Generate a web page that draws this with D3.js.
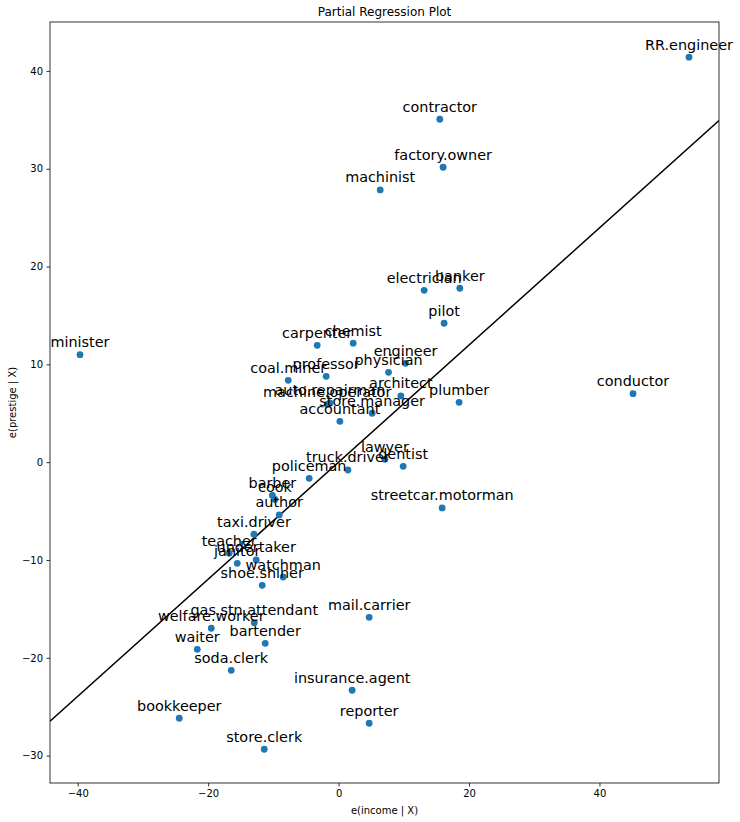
<!DOCTYPE html>
<html>
<head>
<meta charset="utf-8">
<script src="https://cdn.jsdelivr.net/npm/d3@7"></script>
<style>
  body { margin: 0; background: #fff; }
  svg { font-family: "DejaVu Sans", sans-serif; }
</style>
</head>
<body>
<div id="chart"></div>
<script>
// occupations and their partial residuals
var occupations = ["RR.engineer", "contractor", "factory.owner", "machinist", "electrician", "banker",
  "pilot", "minister", "carpenter", "chemist", "engineer", "physician", "professor", "coal.miner",
  "architect", "plumber", "conductor", "auto.repairman", "machine.operator", "store.manager",
  "accountant", "lawyer", "dentist", "truck.driver", "policeman", "barber", "cook", "author",
  "streetcar.motorman", "taxi.driver", "teacher", "undertaker", "janitor", "watchman", "shoe.shiner",
  "gas.stn.attendant", "welfare.worker", "mail.carrier", "bartender", "waiter", "soda.clerk",
  "insurance.agent", "bookkeeper", "reporter", "store.clerk"];

var incomeResid = [53.73, 15.52, 16.03, 6.38, 13.12, 18.59, 16.18, -39.65, -3.28, 2.24, 10.27, 7.66,
  -1.90, -7.72, 9.55, 18.48, 45.15, -1.33, -1.75, 5.15, 0.20, 7.10, 9.90, 1.43, -4.51, -10.15, -9.76,
  -9.10, 15.88, -12.98, -16.77, -12.63, -15.54, -8.49, -11.71, -12.93, -19.52, 4.69, -11.25, -21.67,
  -16.46, 2.08, -24.43, 4.69, -11.40];

var prestigeResid = [41.40, 35.06, 30.15, 27.83, 17.57, 17.78, 14.20, 10.99, 11.95, 12.16, 10.11, 9.19,
  8.78, 8.37, 6.77, 6.12, 7.00, 6.05, 5.90, 5.00, 4.18, 0.30, -0.42, -0.80, -1.65, -3.40, -3.81,
  -5.40, -4.68, -7.37, -9.31, -10.00, -10.34, -11.74, -12.59, -16.41, -16.98, -15.86, -18.52, -19.13,
  -21.28, -23.32, -26.18, -26.69, -29.35];

var xTicks = [-40, -20, 0, 20, 40];
var yTicks = [-30, -20, -10, 0, 10, 20, 30, 40];
var slope = 0.5987;

var width = 740, height = 822;
var margin = {top: 22, right: 21, bottom: 39, left: 50};
var innerW = width - margin.left - margin.right;
var innerH = height - margin.top - margin.bottom;

var svg = d3.select("#chart").append("svg")
  .attr("width", width)
  .attr("height", height);

var x = d3.scaleLinear().domain([-44.25, 58.33]).range([0, innerW]);
var y = d3.scaleLinear().domain([-32.8, 45.0]).range([innerH, 0]);

var g = svg.append("g")
  .attr("transform", "translate(" + margin.left + "," + margin.top + ")");

svg.append("defs").append("clipPath").attr("id", "clip")
  .append("rect").attr("width", innerW).attr("height", innerH);

var fmt = function(d) { return d < 0 ? "\u2212" + Math.abs(d) : "" + d; };

// axes
var xAxis = g.append("g")
  .attr("transform", "translate(0," + innerH + ")")
  .call(d3.axisBottom(x).tickValues(xTicks).tickFormat(fmt).tickSize(3.5).tickPadding(3.5));
var yAxis = g.append("g")
  .call(d3.axisLeft(y).tickValues(yTicks).tickFormat(fmt).tickSize(3.5).tickPadding(3.5));

[xAxis, yAxis].forEach(function(a) {
  a.select(".domain").remove();
  a.selectAll("line").attr("stroke", "#000").attr("stroke-width", 0.8);
  a.selectAll("text").attr("font-size", "10px").attr("fill", "#000")
    .attr("font-family", "DejaVu Sans, sans-serif");
});

// regression line through the origin
g.append("line")
  .attr("clip-path", "url(#clip)")
  .attr("x1", x(x.domain()[0])).attr("y1", y(slope * x.domain()[0]))
  .attr("x2", x(x.domain()[1])).attr("y2", y(slope * x.domain()[1]))
  .attr("stroke", "#000")
  .attr("stroke-width", 1.5);

// points
g.selectAll("circle.pt")
  .data(occupations)
  .enter()
  .append("circle")
  .attr("class", "pt")
  .attr("cx", function(d, i) { return x(incomeResid[i]); })
  .attr("cy", function(d, i) { return y(prestigeResid[i]); })
  .attr("r", 3.4)
  .attr("fill", "#1f77b4");

// labels
g.selectAll("text.lbl")
  .data(occupations)
  .enter()
  .append("text")
  .attr("class", "lbl")
  .attr("x", function(d, i) { return x(incomeResid[i]); })
  .attr("y", function(d, i) { return y(prestigeResid[i]) - 7.5; })
  .attr("text-anchor", "middle")
  .attr("font-size", "14.4px")
  .attr("fill", "#000")
  .text(function(d) { return d; });

// frame
g.append("rect")
  .attr("width", innerW).attr("height", innerH)
  .attr("fill", "none")
  .attr("stroke", "#000")
  .attr("stroke-width", 0.8);

// titles
svg.append("text")
  .attr("x", margin.left + innerW / 2).attr("y", 16)
  .attr("text-anchor", "middle")
  .attr("font-size", "12px")
  .text("Partial Regression Plot");

svg.append("text")
  .attr("x", margin.left + innerW / 2).attr("y", 814)
  .attr("text-anchor", "middle")
  .attr("font-size", "10px")
  .text("e(income | X)");

svg.append("text")
  .attr("transform", "translate(16," + (margin.top + innerH / 2) + ") rotate(-90)")
  .attr("text-anchor", "middle")
  .attr("font-size", "10px")
  .text("e(prestige | X)");
</script>
</body>
</html>
